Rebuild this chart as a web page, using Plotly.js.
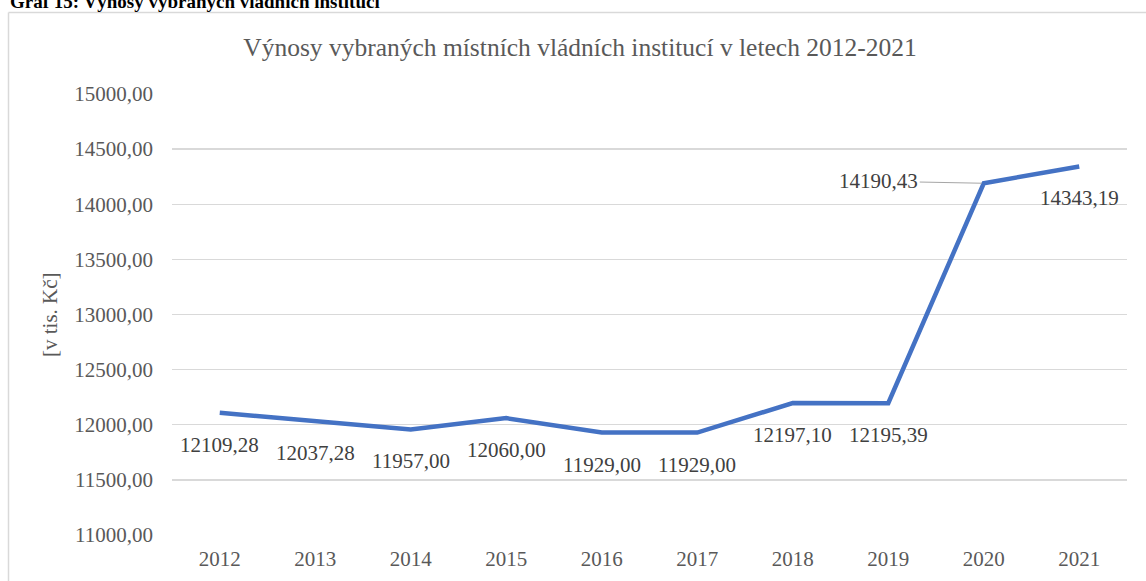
<!DOCTYPE html>
<html>
<head>
<meta charset="utf-8">
<script src="https://cdn.plot.ly/plotly-3.0.1.min.js"></script>
<style>
html,body{margin:0;padding:0;background:#fff;overflow:hidden;}
#chart{width:1146px;height:581px;}
</style>
</head>
<body>
<div id="chart"></div>
<script>
const years = ['2012','2013','2014','2015','2016','2017','2018','2019','2020','2021'];
const values = [12109.28, 12037.28, 11957.00, 12060.00, 11929.00, 11929.00, 12197.10, 12195.39, 14190.43, 14343.19];
const labels = ['12109,28','12037,28','11957,00','12060,00','11929,00','11929,00','12197,10','12195,39','14190,43','14343,19'];
const yTicks = [11000,11500,12000,12500,13000,13500,14000,14500,15000];
const yTickText = ['11000,00','11500,00','12000,00','12500,00','13000,00','13500,00','14000,00','14500,00','15000,00'];

const FONT = 'Liberation Serif';
const GRAY = '#595959';

const W = 1146, H = 581;
const M = {l:172, r:19, t:94, b:46};
const pw = W - M.l - M.r, ph = H - M.t - M.b;
const px = x => (x - M.l)/pw;
const py = y => (H - M.b - y)/ph;

const annotations = years.map((yr, i) => {
  if (i === 8) {
    return {x: i, y: values[i], xref:'x', yref:'y', text: labels[i],
      showarrow:true, arrowhead:0, arrowwidth:1, arrowcolor:'#a6a6a6',
      ax:-105, ay:-2, standoff:2,
      font:{family:FONT, size:21, color:'#404040'}};
  }
  return {x: i, y: values[i], xref:'x', yref:'y', text: labels[i],
    showarrow:false, yanchor:'middle', yshift:-32,
    font:{family:FONT, size:21, color:'#404040'}};
});

annotations.push({
  xref:'paper', yref:'paper', x: px(50), y: py(314), text:'[v tis. Kč]',
  textangle:-90, showarrow:false, xanchor:'center', yanchor:'middle',
  font:{family:FONT, size:21, color:GRAY}
});
annotations.push({
  xref:'paper', yref:'paper', x: px(8), y: py(2), text:'<b>Graf 15: Výnosy vybraných vládních institucí</b>',
  showarrow:false, xanchor:'left', yanchor:'middle',
  font:{family:FONT, size:19, color:'#000'}
});

const trace = {
  x: years, y: values, type:'scatter', mode:'lines',
  line:{color:'#4472C4', width:4.5},
  hoverinfo:'skip'
};

const layout = {
  width: W, height: H,
  margin: M,
  paper_bgcolor:'#fff', plot_bgcolor:'#fff',
  showlegend:false,
  title:{text:'Výnosy vybraných místních vládních institucí v letech 2012-2021',
    font:{family:FONT, size:25.5, color:GRAY}, x: px(580), xref:'paper', xanchor:'center',
    y: 1 - 47/H, yref:'container', yanchor:'middle'},
  xaxis:{type:'category', range:[-0.5, 9.5], showgrid:false, zeroline:false,
    showline:false, ticks:'', ticklabelstandoff:9,
    tickfont:{family:FONT, size:21, color:GRAY}, fixedrange:true},
  yaxis:{range:[11000,15000], tickvals:yTicks, ticktext:yTickText,
    showgrid:true, gridcolor:'#d9d9d9', gridwidth:1.3, zeroline:false, showline:false,
    ticks:'', ticklabelstandoff:18,
    tickfont:{family:FONT, size:21, color:GRAY}, fixedrange:true},
  annotations: annotations,
  shapes:[
    {type:'line', xref:'paper', yref:'paper', x0:px(8.5), x1:px(1150), y0:py(12.5), y1:py(12.5), line:{color:'#d9d9d9', width:1.5}},
    {type:'line', xref:'paper', yref:'paper', x0:px(8.5), x1:px(8.5), y0:py(12.5), y1:py(590), line:{color:'#d9d9d9', width:1.5}}
  ]
};

Plotly.newPlot('chart', [trace], layout, {displayModeBar:false, staticPlot:true});
</script>
</body>
</html>
